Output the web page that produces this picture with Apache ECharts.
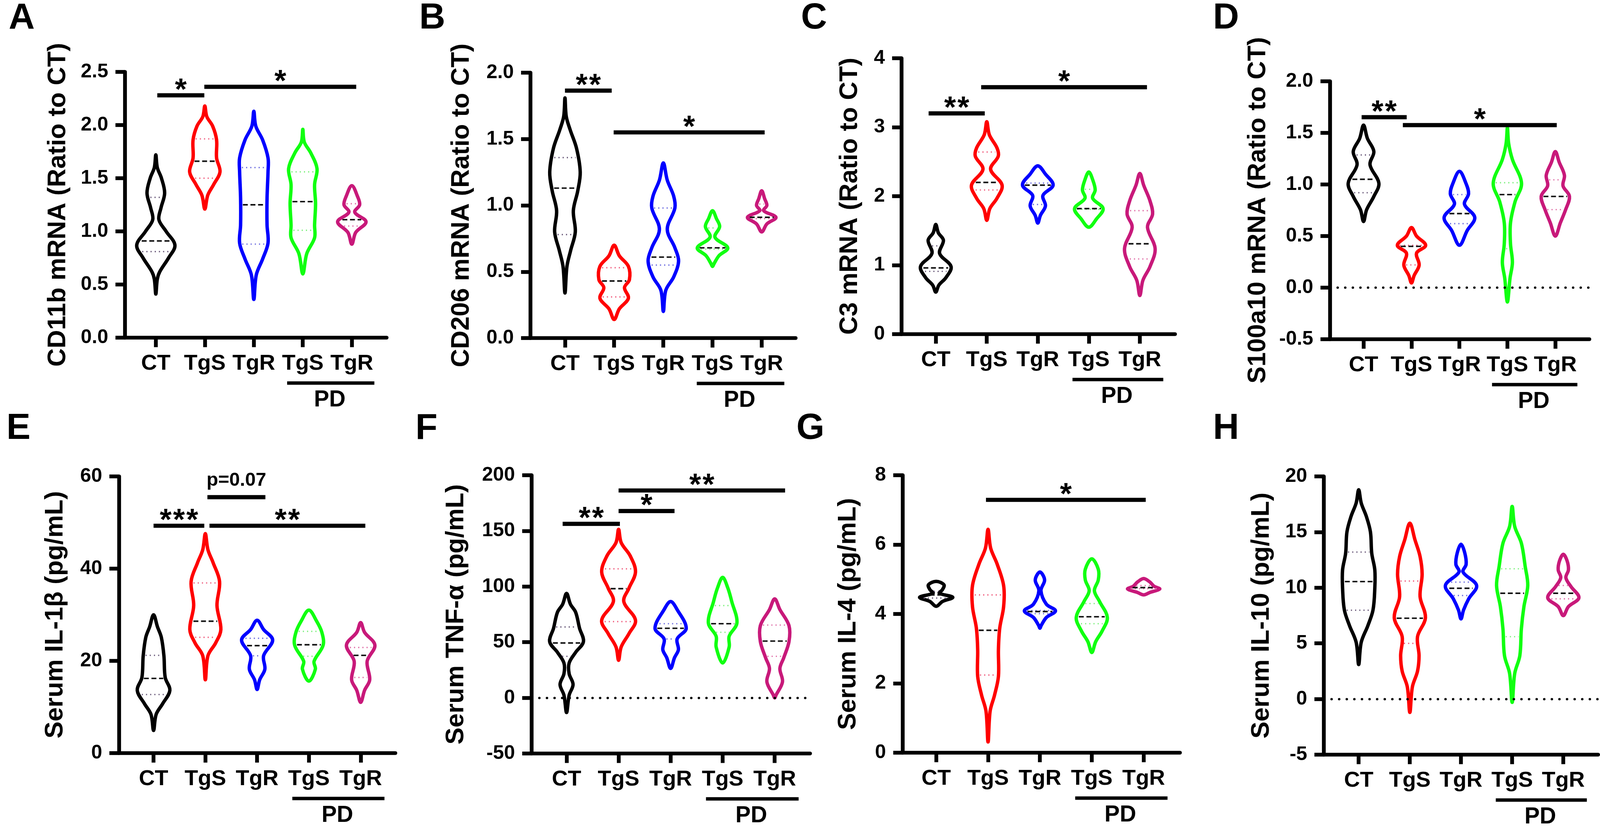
<!DOCTYPE html>
<html>
<head>
<meta charset="utf-8">
<script src="https://cdn.jsdelivr.net/npm/echarts@6/dist/echarts.min.js"></script>
<style>html,body{margin:0;padding:0;background:#fff;overflow:hidden}#chart{width:100vw;height:100vh}</style>
</head>
<body>
<div id="chart"></div>
<script>
// ---------------- DATA ----------------
const categories = ['CT', 'TgS', 'TgR', 'TgS', 'TgR'];
const groupColors = ['#000000', '#FF0000', '#0000FF', '#11FF11', '#C8197A'];
const quartileColors = ['#6b5b7b', '#f06080', '#7070e0', '#80f080', '#e070a8'];

// violin profiles: [value, half-width in category units], top to bottom
const violinsA = [
  [[1.72,0],[1.60,0.03],[1.50,0.115],[1.36,0.18],[1.22,0.105],[1.11,0.063],[1.00,0.21],[0.87,0.39],[0.75,0.26],[0.62,0.08],[0.55,0.03],[0.41,0]],
  [[2.18,0],[2.08,0.04],[1.99,0.16],[1.86,0.24],[1.69,0.24],[1.56,0.31],[1.44,0.18],[1.34,0.06],[1.21,0]],
  [[2.13,0],[1.99,0.04],[1.86,0.18],[1.69,0.29],[1.56,0.29],[1.31,0.27],[1.06,0.27],[0.89,0.29],[0.74,0.18],[0.59,0.05],[0.36,0]],
  [[1.96,0],[1.84,0.03],[1.74,0.16],[1.59,0.29],[1.44,0.24],[1.26,0.26],[1.06,0.24],[0.94,0.24],[0.79,0.08],[0.60,0]],
  [[1.43,0],[1.33,0.115],[1.25,0.16],[1.18,0.06],[1.09,0.29],[0.99,0.08],[0.88,0]]
];
const medianA = [0.91, 1.66, 1.25, 1.28, 1.11];
const q3A = [1.32, 1.87, 1.60, 1.56, 1.26];
const q1A = [0.81, 1.50, 0.88, 1.01, 1.05];
const sigA = [[0.03, 0.99, 2.28, '*'], [0.99, 4.09, 2.36, '*']];
const yTicksA = [0, 0.5, 1.0, 1.5, 2.0, 2.5];

const violinsB = [
  [[1.81,0],[1.67,0.026],[1.57,0.105],[1.43,0.235],[1.25,0.31],[1.11,0.26],[0.96,0.17],[0.80,0.21],[0.66,0.115],[0.54,0.04],[0.34,0]],
  [[0.70,0],[0.62,0.105],[0.54,0.29],[0.44,0.31],[0.38,0.21],[0.30,0.29],[0.22,0.105],[0.14,0]],
  [[1.32,0],[1.19,0.08],[1.07,0.21],[0.98,0.235],[0.82,0.08],[0.68,0.235],[0.58,0.31],[0.46,0.21],[0.36,0.05],[0.20,0]],
  [[0.96,0],[0.90,0.08],[0.84,0.145],[0.76,0.05],[0.68,0.31],[0.62,0.13],[0.56,0.03],[0.54,0]],
  [[1.11,0],[1.05,0.06],[1.00,0.105],[0.96,0.04],[0.91,0.29],[0.86,0.105],[0.80,0]]
];
const medianB = [1.13, 0.43, 0.61, 0.68, 0.91];
const q3B = [1.36, 0.53, 0.98, 0.83, 1.01];
const q1B = [0.78, 0.31, 0.55, 0.67, 0.90];
const sigB = [[0, 0.95, 1.865, '**'], [0.99, 4.06, 1.55, '*']];
const yTicksB = [0, 0.5, 1.0, 1.5, 2.0];

const violinsC = [
  [[1.59,0],[1.47,0.05],[1.36,0.15],[1.17,0.075],[0.98,0.30],[0.82,0.2],[0.71,0.06],[0.61,0]],
  [[3.08,0],[2.89,0.05],[2.70,0.2],[2.58,0.225],[2.39,0.075],[2.16,0.30],[1.97,0.2],[1.82,0.06],[1.65,0]],
  [[2.44,0],[2.32,0.15],[2.16,0.30],[2.01,0.10],[1.86,0.15],[1.72,0.05],[1.61,0]],
  [[2.35,0],[2.24,0.075],[2.09,0.125],[1.97,0.075],[1.82,0.28],[1.67,0.15],[1.55,0]],
  [[2.33,0],[2.16,0.075],[1.93,0.2],[1.74,0.25],[1.55,0.15],[1.24,0.30],[0.98,0.2],[0.78,0.06],[0.56,0]]
];
const medianC = [0.96, 2.20, 2.16, 1.82, 1.31];
const q3C = [1.28, 2.64, 2.19, 2.10, 1.79];
const q1C = [0.91, 2.09, 1.88, 1.81, 1.09];
const sigC = [[-0.14, 0.96, 3.20, '**'], [0.89, 4.14, 3.58, '*']];
const yTicksC = [0, 1, 2, 3, 4];

const violinsD = [
  [[1.575,0],[1.447,0.08],[1.319,0.215],[1.191,0.135],[1.012,0.32],[0.884,0.215],[0.756,0.065],[0.641,0]],
  [[0.582,0],[0.50,0.105],[0.41,0.295],[0.334,0.105],[0.219,0.16],[0.117,0.055],[0.045,0]],
  [[1.127,0],[1.012,0.135],[0.91,0.19],[0.808,0.105],[0.68,0.32],[0.552,0.16],[0.411,0]],
  [[1.55,0],[1.396,0.027],[1.242,0.105],[1.012,0.295],[0.833,0.16],[0.628,0.065],[0.424,0.065],[0.245,0.105],[0.091,0.055],[-0.139,0]],
  [[1.319,0],[1.217,0.08],[1.089,0.19],[0.987,0.16],[0.884,0.295],[0.756,0.215],[0.628,0.105],[0.50,0]]
];
const medianD = [1.05, 0.40, 0.718, 0.902, 0.884];
const q3D = [1.286, 0.41, 0.902, 1.017, 1.045];
const q1D = [0.92, 0.22, 0.62, 0.378, 0.756];
const sigD = [[-0.04, 0.90, 1.652, '**'], [0.82, 4.03, 1.575, '*']];
const yTicksD = [-0.5, 0, 0.5, 1.0, 1.5, 2.0];

const violinsE = [
  [[30.0,0],[27.4,0.075],[25.1,0.15],[21.1,0.2],[16.4,0.225],[13.6,0.315],[10.7,0.175],[8.4,0.05],[4.9,0]],
  [[47.6,0],[44.1,0.05],[41.3,0.15],[37.2,0.275],[32.0,0.225],[26.8,0.30],[23.9,0.2],[21.1,0.05],[15.9,0]],
  [[28.8,0],[26.8,0.125],[24.5,0.30],[21.1,0.125],[18.2,0.15],[15.9,0.05],[13.8,0]],
  [[31.0,0],[28.6,0.15],[26.2,0.25],[23.4,0.275],[19.9,0.1],[18.2,0.125],[15.6,0]],
  [[28.3,0],[26.2,0.075],[23.4,0.275],[19.9,0.125],[15.9,0.175],[13.6,0.075],[11.0,0]]
];
const medianE = [16.2, 28.6, 23.3, 23.5, 21.2];
const q3E = [21.2, 36.9, 24.9, 26.4, 22.9];
const q1E = [12.7, 25.1, 21.1, 21.0, 16.4];
const sigE = [[1.04, 2.16, 55.5, 'p=0.07'], [0, 0.98, 49.3, '***'], [1.08, 4.09, 49.3, '**']];
const yTicksE = [0, 20, 40, 60];

const violinsF = [
  [[93.8,0],[84.1,0.075],[76.9,0.175],[62.5,0.25],[50.5,0.325],[40.9,0.175],[31.3,0.05],[21.6,0.05],[12.0,0.125],[2.4,0.05],[-13.2,0]],
  [[151.4,0],[139.4,0.05],[127.4,0.225],[113.0,0.325],[98.6,0.2],[86.5,0.1],[69.7,0.325],[57.7,0.2],[45.7,0.05],[33.7,0]],
  [[86.5,0],[79.3,0.125],[62.5,0.30],[52.9,0.125],[43.3,0.15],[36.1,0.075],[26.4,0]],
  [[108.2,0],[98.6,0.1],[86.5,0.175],[67.3,0.275],[55.3,0.125],[45.7,0.125],[31.3,0]],
  [[88.9,0],[79.3,0.1],[64.9,0.275],[50.5,0.275],[36.1,0.175],[26.4,0.1],[14.4,0.15],[2.4,0.025],[0,0]]
];
const medianF = [49.3, 98.1, 62.5, 66.6, 51.0];
const q3F = [63.7, 115.9, 66.6, 82.9, 65.4];
const q1F = [37.3, 68.5, 52.9, 58.9, 37.3];
const sigF = [[-0.075, 1.025, 156.3, '**'], [1.0, 2.075, 167.8, '*'], [1.0, 4.2, 186.3, '**']];
const yTicksF = [-50, 0, 50, 100, 150, 200];

const violinsG = [
  [[4.94,0],[4.84,0.15],[4.70,0.12],[4.60,0.06],[4.48,0.32],[4.36,0.12],[4.22,0]],
  [[6.44,0],[5.90,0.05],[5.44,0.175],[4.82,0.30],[4.21,0.30],[3.59,0.225],[2.97,0.2],[2.20,0.2],[1.66,0.125],[1.20,0.04],[0.31,0]],
  [[5.21,0],[4.98,0.09],[4.67,0.02],[4.28,0.125],[4.09,0.30],[3.90,0.125],[3.67,0.025],[3.59,0]],
  [[5.59,0],[5.29,0.125],[4.98,0.125],[4.67,0.05],[4.36,0.15],[3.90,0.30],[3.51,0.2],[3.20,0.075],[2.89,0]],
  [[5.02,0],[4.92,0.12],[4.80,0.2],[4.72,0.31],[4.62,0.12],[4.55,0]]
];
const medianG = [4.55, 3.53, 4.07, 3.92, 4.76];
const q3G = [4.65, 4.55, 4.10, 4.30, 4.82];
const q1G = [4.46, 2.24, 4.01, 3.72, 4.73];
const sigG = [[0.96, 4.04, 7.29, '*']];
const yTicksG = [0, 2, 4, 6, 8];

const violinsH = [
  [[18.8,0],[17.6,0.05],[16.4,0.15],[15.0,0.23],[13.1,0.255],[11.6,0.315],[9.95,0.315],[8.0,0.28],[6.6,0.18],[5.1,0.05],[3.1,0]],
  [[15.8,0],[14.3,0.1],[12.8,0.2],[11.2,0.24],[9.2,0.2],[7.3,0.305],[5.6,0.15],[3.9,0.18],[2.5,0.15],[1.1,0.05],[-1.2,0]],
  [[13.9,0],[13.1,0.075],[12.1,0.1],[11.4,0.04],[10.2,0.305],[9.0,0.15],[8.0,0.05],[7.2,0]],
  [[17.3,0],[15.5,0.05],[14.0,0.18],[11.9,0.255],[10.2,0.305],[8.3,0.23],[6.3,0.18],[3.9,0.15],[2.3,0.05],[-0.3,0]],
  [[13.0,0],[12.4,0.075],[11.6,0.1],[10.9,0.05],[10.1,0.15],[9.1,0.305],[8.3,0.1],[7.5,0]]
];
const medianH = [10.55, 7.26, 9.95, 9.5, 9.5];
const q3H = [13.2, 10.6, 10.5, 11.7, 10.2];
const q1H = [7.98, 5.0, 9.3, 5.6, 9.0];
const sigH = [];
const yTicksH = [-5, 0, 5, 10, 15, 20];

const panelLetters = ['A', 'B', 'C', 'D', 'E', 'F', 'G', 'H'];
const yNames = ['CD11b mRNA (Ratio to CT)', 'CD206 mRNA (Ratio to CT)', 'C3 mRNA (Ratio to CT)', 'S100a10 mRNA (Ratio to CT)',
  'Serum IL-1β (pg/mL)', 'Serum TNF-α (pg/mL)', 'Serum IL-4 (pg/mL)', 'Serum IL-10 (pg/mL)'];
const yDecimals = [1, 1, 0, 1, 0, 0, 0, 0];
const zeroLine = [false, false, false, true, false, true, false, true];
const pdBracket = [2.68, 4.46, 3.55]; // from, to, label centre (category units)

// ---------------- LAYOUT (designed for 4213 x 2134, scaled to the real viewport) ----------------
const FONT = '"Liberation Sans", Arial, Helvetica, sans-serif';
const VW = window.innerWidth || 4213, VH = window.innerHeight || 2134;
const SX = VW / 4213, SY = VH / 2134, S = Math.min(SX, SY);
const layout = [
  {left: 329,  top: 184,  right: 1018, bottom: 864,  xmin: -0.63, xmax: 4.71, gap: 142, tl: 23,   tt: 2},
  {left: 1397, top: 186,  right: 2095, bottom: 865,  xmin: -0.70, xmax: 4.69, gap: 148, tl: 1104, tt: 2},
  {left: 2374, top: 149,  right: 3094, bottom: 855,  xmin: -0.67, xmax: 4.69, gap: 102, tl: 2109, tt: 2},
  {left: 3502, top: 208,  right: 4185, bottom: 868,  xmin: -0.70, xmax: 4.71, gap: 156, tl: 3194, tt: 2},
  {left: 313,  top: 1219, right: 1041, bottom: 1927, xmin: -0.67, xmax: 4.67, gap: 133, tl: 17,   tt: 1052},
  {left: 1400, top: 1216, right: 2133, bottom: 1928, xmin: -0.67, xmax: 4.68, gap: 165, tl: 1094, tt: 1052},
  {left: 2377, top: 1216, right: 3107, bottom: 1926, xmin: -0.645, xmax: 4.70, gap: 109, tl: 2097, tt: 1052},
  {left: 3486, top: 1219, right: 4208, bottom: 1931, xmin: -0.68, xmax: 4.68, gap: 130, tl: 3194, tt: 1052}
];

const panels = [
  {v: violinsA, m: medianA, q3: q3A, q1: q1A, sig: sigA, ticks: yTicksA},
  {v: violinsB, m: medianB, q3: q3B, q1: q1B, sig: sigB, ticks: yTicksB},
  {v: violinsC, m: medianC, q3: q3C, q1: q1C, sig: sigC, ticks: yTicksC},
  {v: violinsD, m: medianD, q3: q3D, q1: q1D, sig: sigD, ticks: yTicksD},
  {v: violinsE, m: medianE, q3: q3E, q1: q1E, sig: sigE, ticks: yTicksE},
  {v: violinsF, m: medianF, q3: q3F, q1: q1F, sig: sigF, ticks: yTicksF},
  {v: violinsG, m: medianG, q3: q3G, q1: q1G, sig: sigG, ticks: yTicksG},
  {v: violinsH, m: medianH, q3: q3H, q1: q1H, sig: sigH, ticks: yTicksH}
];

function hwAt(prof, v) {
  for (let i = 0; i < prof.length - 1; i++) {
    const a = prof[i], b = prof[i + 1];
    if (v <= a[0] && v >= b[0]) {
      const t = (a[0] - v) / (a[0] - b[0] || 1);
      return a[1] + (b[1] - a[1]) * t;
    }
  }
  return 0;
}

function violinRender(p) {
  return function (params, api) {
    const k = params.dataIndex;
    const prof = p.v[k];
    const R = prof.map(d => api.coord([k + d[1], d[0]]));
    const L = prof.map(d => api.coord([k - d[1], d[0]]));
    const pts = R.concat(L.slice(1, -1).reverse());
    const children = [{
      type: 'polygon',
      shape: {points: pts, smooth: 0.35},
      style: {fill: 'none', stroke: groupColors[k], lineWidth: 9 * S, lineJoin: 'round'}
    }];
    const addLine = (v, stroke, dash, w) => {
      const hw = hwAt(prof, v);
      const a = api.coord([k - hw, v]), b = api.coord([k + hw, v]);
      const inset = 6 * S;
      if (b[0] - a[0] > 2 * inset + 2) {
        children.push({type: 'line', shape: {x1: a[0] + inset, y1: a[1], x2: b[0] - inset, y2: b[1]},
          style: {stroke: stroke, lineWidth: w * S, lineDash: dash.map(d => d * S)}});
      }
    };
    addLine(p.q3[k], quartileColors[k], [3, 8], 3.5);
    addLine(p.q1[k], quartileColors[k], [3, 8], 3.5);
    addLine(p.m[k], '#111111', [13, 7], 4);
    return {type: 'group', children: children};
  };
}

function sigRender(p) {
  return function (params, api) {
    const s = p.sig[params.dataIndex];
    const a = api.coord([s[0], s[2]]), b = api.coord([s[1], s[2]]);
    const cx = (a[0] + b[0]) / 2;
    const children = [{type: 'line', shape: {x1: a[0], y1: a[1], x2: b[0], y2: b[1]},
      style: {stroke: '#000', lineWidth: 11 * S}}];
    if (/^\*+$/.test(s[3])) {
      const n = s[3].length;
      for (let i = 0; i < n; i++) {
        children.push({type: 'text', style: {text: '*', x: cx + (i - (n - 1) / 2) * 35 * S, y: a[1] - 11 * S,
          fontSize: 80 * S, fontWeight: 'bold', fontFamily: FONT, fill: '#000', align: 'center', verticalAlign: 'middle'}});
      }
    } else {
      children.push({type: 'text', style: {text: s[3], x: cx, y: a[1] - 44 * S,
        fontSize: 50 * S, fontWeight: 'bold', fontFamily: FONT, fill: '#000', align: 'center', verticalAlign: 'middle'}});
    }
    return {type: 'group', children: children};
  };
}

function pdRender(p) {
  return function (params, api) {
    const ymin = p.ticks[0];
    const a = api.coord([pdBracket[0], ymin]), b = api.coord([pdBracket[1], ymin]);
    const c = api.coord([pdBracket[2], ymin]);
    return {type: 'group', children: [
      {type: 'line', shape: {x1: a[0], y1: a[1] + 116 * SY, x2: b[0], y2: b[1] + 116 * SY}, style: {stroke: '#000', lineWidth: 9 * S}},
      {type: 'text', style: {text: 'PD', x: c[0], y: c[1] + 160 * SY, fontSize: 60 * S, fontWeight: 'bold', fontFamily: FONT,
        fill: '#000', align: 'center', verticalAlign: 'middle'}}
    ]};
  };
}

const grid = [], xAxis = [], yAxis = [], series = [], title = [];
panels.forEach((p, i) => {
  const L = layout[i];
  grid.push({left: L.left * SX, top: L.top * SY, width: (L.right - L.left) * SX, height: (L.bottom - L.top) * SY, containLabel: false});
  title.push({text: panelLetters[i], left: L.tl * SX, top: L.tt * SY, padding: 0,
    textStyle: {fontSize: 95 * S, fontWeight: 'bold', color: '#000', fontFamily: FONT}});
  xAxis.push({
    type: 'value', gridIndex: i, min: L.xmin, max: L.xmax,
    axisLine: {show: true, onZero: false, lineStyle: {color: '#000', width: 10 * S}},
    axisTick: {show: true, customValues: [0, 1, 2, 3, 4], length: 25 * S, lineStyle: {color: '#000', width: 10 * S}},
    axisLabel: {customValues: [0, 1, 2, 3, 4], formatter: v => categories[Math.round(v)] || '',
      fontSize: 58 * S, fontWeight: 'bold', color: '#000', fontFamily: FONT, margin: 40 * S},
    splitLine: {show: false}
  });
  const t = p.ticks;
  yAxis.push({
    type: 'value', gridIndex: i, min: t[0], max: t[t.length - 1], interval: t[1] - t[0],
    axisLine: {show: true, onZero: false, lineStyle: {color: '#000', width: 10 * S}},
    axisTick: {show: true, length: 25 * S, lineStyle: {color: '#000', width: 10 * S}},
    axisLabel: {fontSize: 52 * S, fontWeight: 'bold', color: '#000', fontFamily: FONT, margin: 44 * S,
      formatter: v => yDecimals[i] ? Number(v).toFixed(1) : String(Math.round(v))},
    splitLine: {show: false},
    name: yNames[i], nameLocation: 'middle', nameRotate: 90, nameGap: L.gap * SX,
    nameTextStyle: {fontSize: 67 * S, fontWeight: 'bold', color: '#000', fontFamily: FONT}
  });
  const vs = {
    type: 'custom', xAxisIndex: i, yAxisIndex: i, clip: false, silent: true,
    data: p.m.map((m, k) => [k, m]), encode: {x: 0, y: 1},
    renderItem: violinRender(p), z: 3
  };
  if (zeroLine[i]) {
    vs.markLine = {silent: true, symbol: ['none', 'none'], animation: false, label: {show: false},
      lineStyle: {color: '#000', width: 6 * S, type: [0.5 * S, 19.5 * S], cap: 'round'}, data: [{yAxis: 0}]};
  }
  series.push(vs);
  if (p.sig.length) {
    series.push({type: 'custom', xAxisIndex: i, yAxisIndex: i, clip: false, silent: true,
      data: p.sig.map(s => [s[0], s[2]]), encode: {x: 0, y: 1}, renderItem: sigRender(p), z: 4});
  }
  series.push({type: 'custom', xAxisIndex: i, yAxisIndex: i, clip: false, silent: true,
    data: [[3.5, t[0]]], encode: {x: 0, y: 1}, renderItem: pdRender(p), z: 4});
});

const chart = echarts.init(document.getElementById('chart'), null, {renderer: 'canvas'});
chart.setOption({backgroundColor: '#fff', animation: false, title, grid, xAxis, yAxis, series});
</script>
</body>
</html>
